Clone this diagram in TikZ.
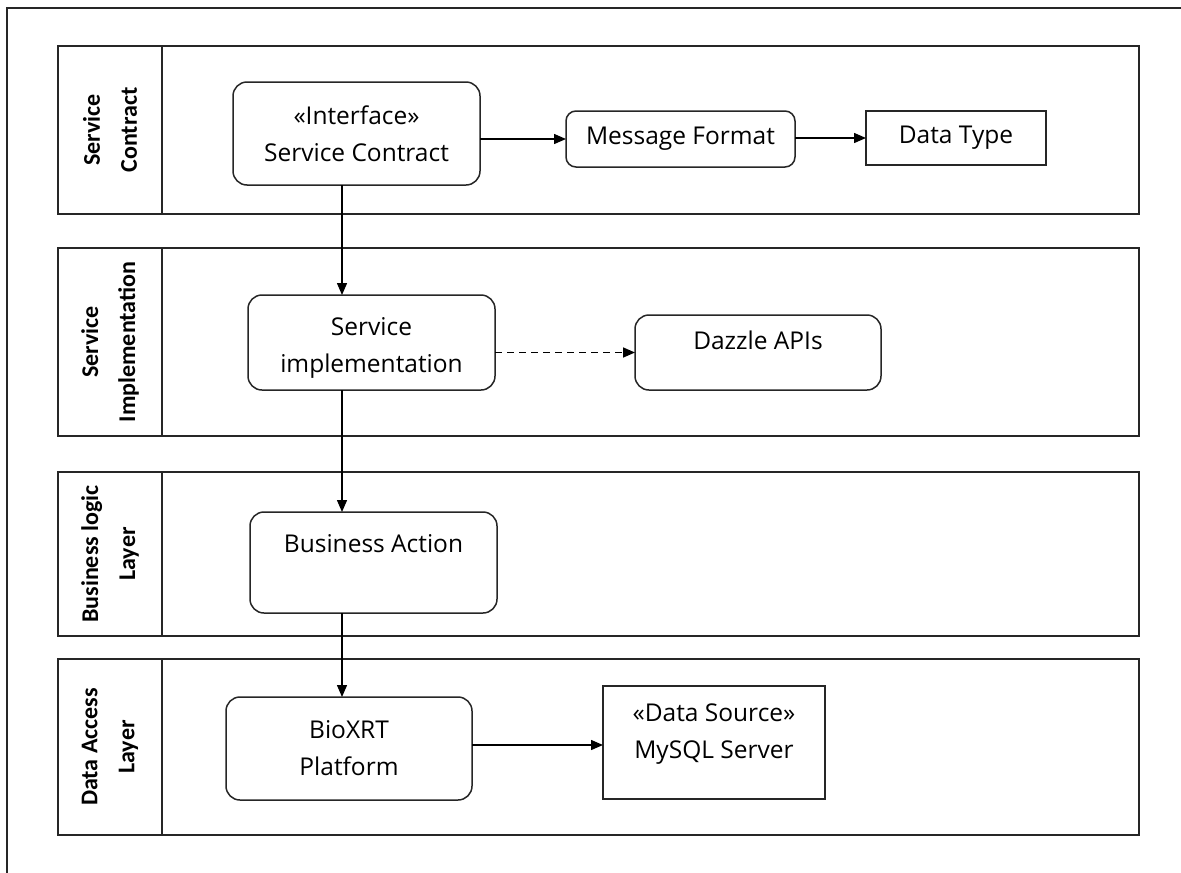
\documentclass[tikz,border=0pt]{standalone}
\usepackage{fontspec}
\setmainfont{Open Sans}
\newfontfamily\lanefont{Carlito}
\usetikzlibrary{arrows.meta}

\begin{document}
\begin{tikzpicture}[x=1pt,y=-1pt,
  every node/.style={inner sep=0pt,outer sep=0pt},
  frame/.style={line width=1.5pt,draw=black!85},
  lanebox/.style={line width=1.5pt,draw=black!85},
  lanelabel/.style={rotate=90,align=center,
    font=\lanefont\bfseries\fontsize{24}{37}\selectfont},
  rbox/.style={draw=black!85,line width=1.5pt,rounded corners=14pt,align=center,
    font=\fontsize{24.5}{37}\selectfont},
  sbox/.style={draw=black!85,line width=1.5pt,align=center,
    font=\fontsize{24.5}{37}\selectfont},
  flow/.style={line width=1.4pt,-{Triangle[length=12pt,width=10pt]}},
  dflow/.style={flow,line width=1.6pt,dash pattern=on 7pt off 5pt}
]
\useasboundingbox (0,0) rectangle (1181,873);
\fill[white] (0,0) rectangle (1181,873);

% outer frame (runs past the right and bottom edges)
\draw[frame] (7,873) -- (7,8) -- (1181,8);

% swim lanes with their header column
\foreach \top/\bot in {46/214, 248/436, 472/636, 659/835}{
  \draw[lanebox] (58,\top) rectangle (1139,\bot);
  \draw[lanebox] (162,\top) -- (162,\bot);
}
\node[lanelabel] (l1) at (110,130) {Service\\Contract};
\node[lanelabel] (l2) at (110,342) {Service\\Implementation};
\node[lanelabel] (l3) at (110,554) {Business logic\\Layer};
\node[lanelabel] (l4) at (110,747) {Data Access\\Layer};

% components
\node[rbox,minimum width=247pt,minimum height=103pt] (iface) at (356.5,133.5)
  {«Interface»\\Service Contract};
\node[rbox,rounded corners=10pt,minimum width=229pt,minimum height=56pt] (msg) at (680.5,139)
  {Message Format};
\node[sbox,minimum width=180pt,minimum height=54pt] (dtype) at (956,138)
  {Data Type};
\node[rbox,minimum width=247pt,minimum height=95pt] (simpl) at (371.5,342.5)
  {\rule{0pt}{28pt}Service\\implementation};
\node[rbox,minimum width=246pt,minimum height=75pt,text depth=24pt] (dazzle) at (758,352.5)
  {Dazzle APIs};
\node[rbox,minimum width=247pt,minimum height=101pt] (bact) at (373.5,562.5)
  {Business Action\\\mbox{}};
\node[rbox,minimum width=246pt,minimum height=103pt] (bio) at (349,748.5)
  {BioXRT\\Platform};
\node[sbox,minimum width=222pt,minimum height=113pt] (dsrc) at (714,742.5)
  {«Data Source»\\MySQL Server\\[-14pt]\mbox{}};

% vertical spine of the call chain
\coordinate (spine) at (342,0);
\coordinate (dline) at (0,745);

% connectors
\draw[flow] (iface.east |- msg.west) -- (msg.west);
\draw[flow] (msg.east |- dtype.west) -- (dtype.west);
\draw[flow] (iface.south -| spine) -- (simpl.north -| spine);
\draw[dflow] (simpl.east |- dazzle.west) -- (dazzle.west);
\draw[flow] (simpl.south -| spine) -- (bact.north -| spine);
\draw[flow] (bact.south -| spine) -- (bio.north -| spine);
\draw[flow] (bio.east |- dline) -- (dsrc.west |- dline);
\end{tikzpicture}
\end{document}
